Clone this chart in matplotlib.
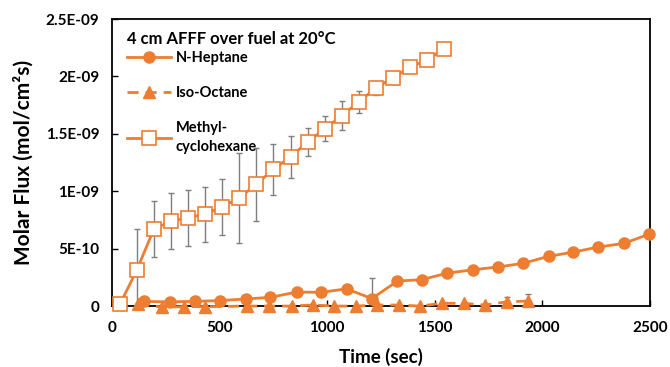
import numpy as np
import matplotlib
matplotlib.use("Agg")
import matplotlib.pyplot as plt

# N-Heptane (filled circles)
t_hep = [151, 270, 386, 503, 621, 737, 858, 971, 1091, 1208, 1327, 1440, 1558,
         1676, 1792, 1910, 2029, 2144, 2260, 2379, 2497]
v_hep = [0.04, 0.037, 0.041, 0.048, 0.062, 0.076, 0.122, 0.12, 0.15, 0.065, 0.218,
         0.23, 0.287, 0.316, 0.34, 0.372, 0.433, 0.47, 0.514, 0.546, 0.627]
e_hep = [0, 0, 0, 0, 0, 0, 0, 0, 0, 0.176, 0, 0, 0, 0, 0, 0, 0, 0, 0, 0, 0]

# Iso-Octane (filled triangles, dashed)
t_iso = [121, 235, 335, 434, 627, 730, 835, 934, 1034, 1134, 1234, 1334, 1431,
         1533, 1634, 1732, 1835, 1935]
v_iso = [0.02, -0.01, -0.005, -0.005, 0.0, 0.0, 0.0, 0.01, 0.0, 0.0, 0.009, 0.009,
         0.0, 0.024, 0.024, 0.009, 0.037, 0.044]
e_iso = [0, 0, 0, 0, 0, 0, 0, 0, 0, 0, 0, 0, 0, 0, 0, 0, 0.04, 0.06]

# Methylcyclohexane (open squares)
t_mch = [37, 115, 195, 275, 355, 433, 512, 591, 670, 750, 830, 910, 990, 1069,
         1148, 1227, 1306, 1385, 1464, 1543]
v_mch = [0.015, 0.31, 0.67, 0.74, 0.77, 0.80, 0.865, 0.94, 1.06, 1.19, 1.30, 1.43,
         1.545, 1.66, 1.78, 1.90, 1.99, 2.08, 2.145, 2.24]
e_mch = [0, 0.36, 0.245, 0.245, 0.245, 0.24, 0.245, 0.39, 0.32, 0.22, 0.18, 0.125,
         0.11, 0.13, 0.095, 0.065, 0.04, 0, 0, 0]

yticks = [0, 0.5, 1.0, 1.5, 2.0, 2.5]
ytick_labels = ['0', '5E-10', '1E-09', '1.5E-09', '2E-09', '2.5E-09']
xticks = [0, 500, 1000, 1500, 2000, 2500]

orange = '#ED7D31'
grey = '#7F7F7F'

plt.rcParams['font.family'] = ['Lato', 'DejaVu Sans']
plt.rcParams['font.weight'] = 'bold'

fig = plt.figure(figsize=(6.7, 3.67), dpi=100)
ax = fig.add_axes([0.167, 0.166, 0.803, 0.782])

sc = 1e-9
for t, v, e in [(t_hep, v_hep, e_hep), (t_iso, v_iso, e_iso), (t_mch, v_mch, e_mch)]:
    ax.errorbar(t, np.array(v) * sc, yerr=np.array(e) * sc, fmt='none',
                ecolor=grey, elinewidth=1.0, capsize=2.5, capthick=1.0, zorder=2)

ax.plot(t_hep, np.array(v_hep) * sc, color=orange, lw=2, marker='o', ms=8,
        label='N-Heptane', zorder=4, clip_on=False)
ax.plot(t_iso, np.array(v_iso) * sc, color=orange, lw=2, ls=(0, (4, 2.5)), marker='^',
        ms=8, label='Iso-Octane', zorder=3, clip_on=False)
ax.plot(t_mch, np.array(v_mch) * sc, color=orange, lw=2, marker='s', ms=9.5,
        mfc='white', mec=orange, mew=1.2, label='Methyl-\ncyclohexane', zorder=5,
        clip_on=False)

ax.set_xlim(0, 2500)
ax.set_ylim(0, 2.5e-9)
ax.set_xticks(xticks)
ax.set_yticks([y * sc for y in yticks])
ax.set_yticklabels(ytick_labels)
ax.tick_params(direction='in', length=4, width=1, labelsize=11)
ax.tick_params(axis='x', pad=11)
ax.tick_params(axis='y', pad=9)
for s in ax.spines.values():
    s.set_linewidth(1.3)

ax.set_xlabel('Time (sec)', fontsize=13.5, fontweight='bold', labelpad=9)
ax.set_ylabel('Molar Flux (mol/cm²s)', fontsize=15, fontweight='bold', labelpad=9)

ax.text(0.028, 0.93, '4 cm AFFF over fuel at 20°C', transform=ax.transAxes,
        fontsize=12, fontweight='bold', va='center', ha='left')

leg = ax.legend(loc='upper left', bbox_to_anchor=(0.009, 0.924), frameon=False,
                fontsize=10.5, handlelength=3.0, labelspacing=1.45,
                borderaxespad=0.3, handletextpad=0.35)
for txt in leg.get_texts():
    txt.set_fontweight('bold')
    txt.set_linespacing(1.4)

fig.savefig('out.png', dpi=100)
